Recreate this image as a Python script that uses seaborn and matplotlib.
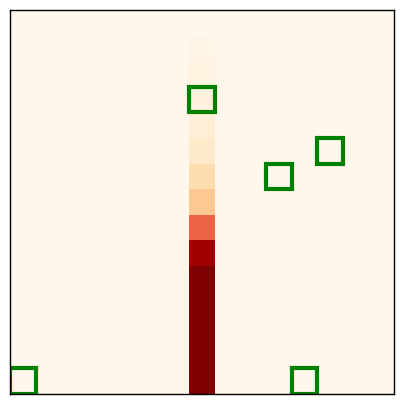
import numpy as np
import matplotlib
matplotlib.use("Agg")
import matplotlib.pyplot as plt
import matplotlib.patches as patches
import seaborn as sns

grid_size = 15
hot_column = 7
# values down the hot column, row 0 at the top
hot_column_values = [0.0, 0.02, 0.04, 0.05, 0.08, 0.12, 0.2, 0.31, 0.63, 0.92,
                     1.0, 1.0, 1.0, 1.0, 1.0]
left_column_values = [0, 0, 0, 0, 0, 0, 0, 0, 0.008, 0.008, 0.008, 0.008, 0.008, 0.008, 0.008]
right_column_values = [0, 0, 0, 0, 0, 0, 0, 0, 0, 0.008, 0.008, 0.008, 0.008, 0.008, 0.008]
# (column, row) of the marked cells
marked_cells = [(7, 3), (12, 5), (10, 6), (0, 14), (11, 14)]

grid = np.zeros((grid_size, grid_size))
grid[:, hot_column] = hot_column_values
grid[:, hot_column - 1] = left_column_values
grid[:, hot_column + 1] = right_column_values

fig = plt.figure(figsize=(4.05, 4.05), dpi=100)
ax = fig.add_axes([10 / 405, 11 / 405, 384 / 405, 384 / 405])
sns.heatmap(grid, cmap="OrRd", vmin=0, vmax=1, cbar=False, square=False,
            xticklabels=False, yticklabels=False, ax=ax)
for col, row in marked_cells:
    ax.add_patch(patches.Rectangle((col, row), 1, 1, fill=False,
                                   edgecolor="green", linewidth=3))
for side in ax.spines.values():
    side.set_visible(True)
    side.set_color("black")
    side.set_linewidth(1)
ax.set_xticks([])
ax.set_yticks([])

plt.savefig("out.png", dpi=100)
